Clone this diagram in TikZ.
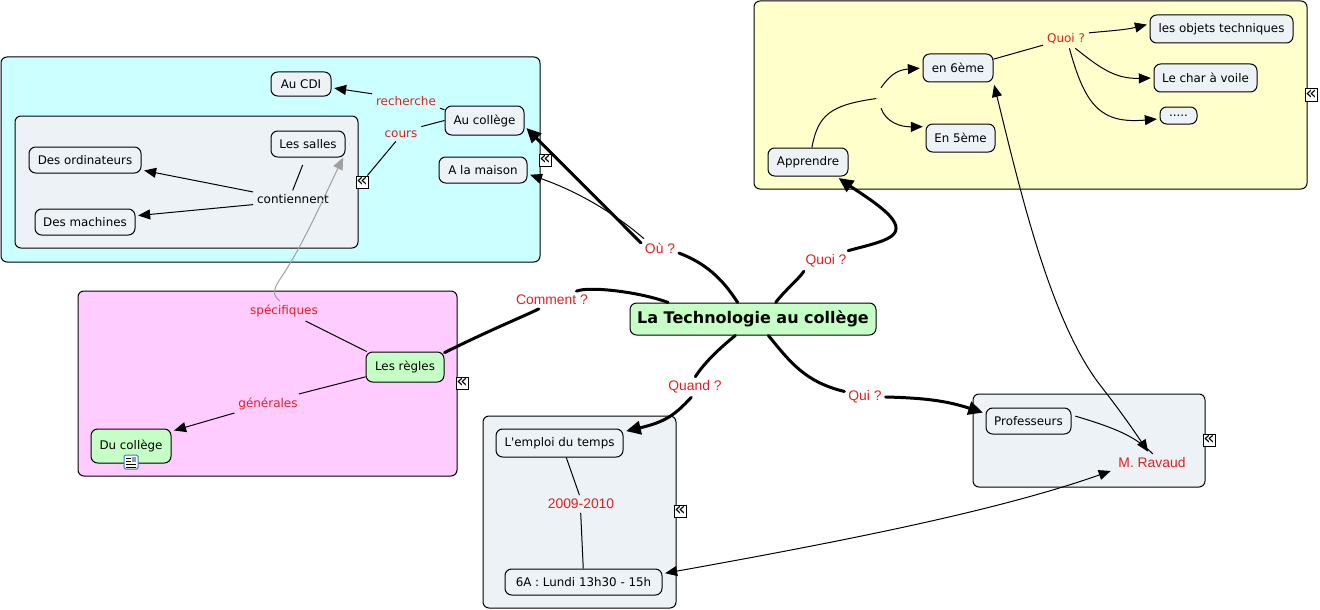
\documentclass[tikz,border=0pt]{standalone}
\usepackage{fontspec}
\usepackage{xcolor}
\usetikzlibrary{arrows.meta}
\setmainfont{DejaVu Sans}
\newfontfamily\linkfont{Liberation Sans}
\definecolor{cyanback}{HTML}{CCFFFF}
\definecolor{greyback}{HTML}{ECF2F5}
\definecolor{yellowback}{HTML}{FFFFCC}
\definecolor{pinkback}{HTML}{FFCCFF}
\definecolor{greenback}{HTML}{C6FFC6}
\definecolor{linkred}{HTML}{E02020}
\definecolor{greyline}{HTML}{A0A0A0}
\definecolor{iconblue}{HTML}{3C78C8}
\tikzstyle{panel} = [
    draw=black,
    line width=0.75pt,
    rectangle,
    rounded corners=4.5pt,
    inner sep=0pt
    ]
\tikzstyle{topic} = [
    panel,
    fill=greyback,
    rounded corners=5pt,
    font=\fontsize{8.9pt}{10pt}\selectfont
    ]
\tikzstyle{greentopic} = [
    topic,
    fill=greenback
    ]
\tikzstyle{linkname} = [
    text=linkred,
    font=\linkfont\fontsize{10.4pt}{12pt}\selectfont,
    inner sep=1pt,
    outer sep=2pt
    ]
\tikzstyle{linksmall} = [
    linkname,
    font=\fontsize{9pt}{10pt}\selectfont
    ]
\tikzstyle{collapse} = [
    draw=black,
    fill=white,
    line width=0.75pt,
    minimum size=9pt,
    inner sep=0pt,
    font=\fontsize{14pt}{14pt}\selectfont
    ]
\tikzstyle{trunk} = [line width=2.25pt, line cap=round]
\tikzstyle{trunktip} = [trunk, shorten >=2pt, -{Triangle[length=11pt,width=10pt]}]
\tikzstyle{twig} = [line width=0.75pt]
\tikzstyle{twigtip} = [twig, shorten >=2pt, -{Triangle[length=9pt,width=7.5pt]}]
\tikzstyle{twigboth} = [twig, shorten >=2pt, shorten <=2pt, {Triangle[length=9pt,width=7.5pt]}-{Triangle[length=9pt,width=7.5pt]}]
\begin{document}
\begin{tikzpicture}[x=0.75pt,y=-0.75pt]
\useasboundingbox (0,0) rectangle (1320,610);
% the panels
\node[panel, fill=cyanback, minimum width=404.25pt, minimum height=153.75pt] (cyanbox) at (270.5,159.5) {};
\node[panel, fill=greyback, minimum width=257.25pt, minimum height=99pt] (sallesbox) at (186.5,182) {};
\node[panel, fill=yellowback, minimum width=414.75pt, minimum height=141pt] (yellowbox) at (1030.5,95) {};
\node[panel, fill=pinkback, minimum width=284.25pt, minimum height=138.75pt] (pinkbox) at (267.5,383.5) {};
\node[panel, fill=greyback, minimum width=144.75pt, minimum height=144pt] (emploibox) at (579.5,512) {};
\node[panel, fill=greyback, minimum width=174pt, minimum height=69.75pt] (profbox) at (1089,440.5) {};

\node[greentopic, minimum width=184.5pt, minimum height=24pt, font=\fontsize{12pt}{14pt}\selectfont\bfseries] (root) at (753,319) {La Technologie au collège};

\node[topic, minimum width=45pt, minimum height=18pt] (aucdi) at (301,84) {Au CDI};
\node[topic, minimum width=59.25pt, minimum height=21.75pt] (aucollege) at (484.5,120.5) {Au collège};
\node[topic, minimum width=66pt, minimum height=19.5pt] (maison) at (483,170) {A la maison};
\node[topic, minimum width=55.5pt, minimum height=19.5pt] (salles) at (308,144) {Les salles};
\node[topic, minimum width=84pt, minimum height=19.5pt] (ordis) at (85,160) {Des ordinateurs};
\node[topic, minimum width=75pt, minimum height=19.5pt] (machines) at (85,222) {Des machines};
\node[greentopic, minimum width=60pt, minimum height=25.5pt] (ducollege) at (131,446) {Du collège};
\node[greentopic, minimum width=58.5pt, minimum height=22.5pt] (regles) at (405,367) {Les règles};
\node[topic, minimum width=60pt, minimum height=21pt] (apprendre) at (808,162) {Apprendre};
\node[topic, minimum width=52.5pt, minimum height=21pt] (sixieme) at (958,68) {en 6ème};
\node[topic, minimum width=51.75pt, minimum height=21pt] (cinquieme) at (960.5,138) {En 5ème};
\node[topic, minimum width=107.25pt, minimum height=21pt] (objets) at (1221.5,29) {les objets techniques};
\node[topic, minimum width=77.25pt, minimum height=21pt] (char) at (1205.5,78) {Le char à voile};
\node[topic, minimum width=27.75pt, minimum height=12.75pt] (points) at (1178.5,115.5) {.....};
\node[topic, minimum width=95.25pt, minimum height=21pt] (emploi) at (559.5,443) {L\textquotesingle emploi du temps};
\node[topic, minimum width=117.75pt, minimum height=19.5pt] (lundi) at (583.5,582) {6A : Lundi 13h30 - 15h};
\node[topic, minimum width=63.75pt, minimum height=19.5pt] (profs) at (1028.5,421) {Professeurs};

% the link names
\node[linkname] (ou) at (660,248) {Où ?};
\node[linkname] (comment) at (552,300) {Comment ?};
\node[linkname] (quoi) at (826,261) {Quoi ?};
\node[linkname] (quand) at (695,387) {Quand ?};
\node[linkname] (qui) at (865,397) {Qui ?};
\node[linkname] (annee) at (581,504) {2009-2010};
\node[linkname] (ravaud) at (1152,463) {M. Ravaud};
\node[linksmall] (recherche) at (406,101) {recherche};
\node[linksmall] (cours) at (401,134) {cours};
\node[linksmall] (specifiques) at (284,311) {spécifiques};
\node[linksmall] (generales) at (268,404) {générales};
\node[linksmall] (quoibis) at (1066,39) {Quoi ?};
\node[linksmall, text=black] (contiennent) at (293,199) {contiennent};
\node[fill=yellowback!60!white, minimum width=0.75pt, minimum height=15pt, inner sep=0pt] (fork) at (881,98) {};

% the collapse marks
\node[collapse] (foldsalles) at (362,182) {«};
\node[collapse] (foldcyan) at (545,160) {«};
\node[collapse] (foldyellow) at (1311,95) {«};
\node[collapse] (foldpink) at (462,383) {«};
\node[collapse] (foldemploi) at (680,511) {«};
\node[collapse] (foldprof) at (1209,440) {«};

% note icon on Du collège
\node[draw=iconblue, fill=white, line width=0.75pt, rounded corners=1pt, minimum size=10.5pt, inner sep=0pt] (note) at (131,462) {};
\fill[yellowback] (126,457) rectangle (136,467);
\draw[black, line width=0.6pt] (126,458) -- (131,458) (126,461) -- (131,461) (126,464) -- (136,464) (126,467) -- (136,467);
\fill[iconblue!70] (132,457) rectangle (136,461.5);

% main branches
\draw[trunk] (root.133) .. controls (722,278) and (705,263) .. (ou.-15);
\draw[trunktip] (ou.165) -- (aucollege.-8);
\draw[trunk] (root.169.4) .. controls (640,292) and (590,286) .. (comment.20);
\draw[trunk] (comment.214) .. controls (520,318) and (490,330) .. (regles.20);
\draw[trunk] (root.36) .. controls (785,290) and (798,280) .. (quoi.205);
\draw[trunktip] (quoi.25) .. controls (880,242) and (905,238) .. (893,220) .. controls (885,208) and (860,193) .. (apprendre.-27);
\draw[trunk] (root.223) .. controls (715,352) and (703,365) .. (quand.88);
\draw[trunktip] (quand.-110) .. controls (675,415) and (665,422) .. (emploi.10);
\draw[trunk] (root.313) .. controls (790,362) and (805,382) .. (qui.165);
\draw[trunktip] (qui.0) .. controls (930,398) and (950,402) .. (profs.170);

% inside the cyan panel
\draw[twigtip] (recherche.168) -- (aucdi.-7);
\draw[twig] (aucollege.165) -- (recherche.-12);
\draw[twig] (aucollege.180) -- (cours.20);
\draw[twig] (cours.-125) -- (foldsalles);
\draw[twig, shorten <=6pt] (salles.-100) -- (contiennent.92);
\draw[twigtip] (contiennent.170) -- (ordis.-10);
\draw[twigtip] (contiennent.188) -- (machines.7);
\draw[twigtip] (ou.150) .. controls (605,205) and (565,187) .. (maison.-5);

% inside the pink panel
\draw[twig] (regles.158) -- (specifiques.-25);
\draw[twig] (regles.194) -- (generales.18);
\draw[twigtip] (generales.195) -- (ducollege.20);
\draw[twigtip, greyline, shorten >=0pt] (specifiques.112) .. controls (268,293) and (278,283) .. (286,270) .. controls (305,240) and (325,195) .. (salles.-21);

% inside the yellow panel
\draw[twig, shorten >=3pt] (apprendre.75) .. controls (818,115) and (830,105) .. (fork.west);
\draw[twigtip] (fork.north) .. controls (888,78) and (895,70) .. (sixieme.180);
\draw[twigtip] (fork.south) .. controls (886,122) and (900,127) .. (cinquieme.162);
\draw[twig] (sixieme.14) -- (quoibis.195);
\draw[twigtip] (quoibis.15) .. controls (1108,31) and (1125,30) .. (objets.176);
\draw[twigtip] (quoibis.-45) .. controls (1100,68) and (1115,79) .. (char.180);
\draw[twigtip] (quoibis.-70) .. controls (1085,105) and (1100,124) .. (points.190);

% links across the panels
\draw[twigboth] (sixieme.-22) .. controls (1020,190) and (1050,320) .. (1100,385) .. controls (1118,408) and (1130,425) .. (ravaud.105);
\draw[twig, shorten <=3pt] (profs.8) .. controls (1115,428) and (1135,436) .. (ravaud.85);
\draw[twigboth, shorten >=3pt] (lundi.6) .. controls (850,540) and (1000,510) .. (ravaud.190);
\draw[twig] (emploi.-65) -- (annee.100);
\draw[twig] (annee.-92) -- (lundi.91);
\end{tikzpicture}
\end{document}
